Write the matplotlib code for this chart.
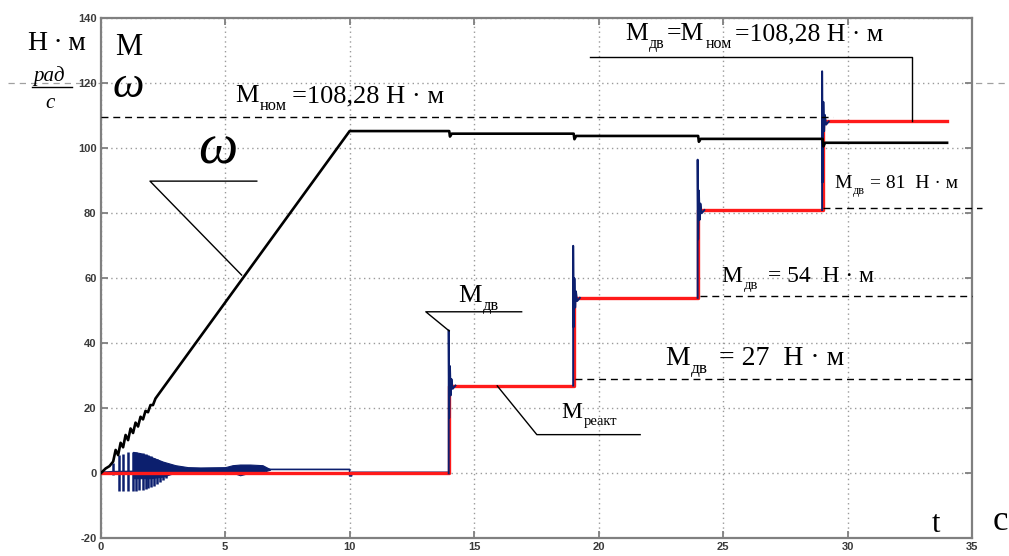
import matplotlib
matplotlib.use("Agg")
import matplotlib.pyplot as plt
from matplotlib.lines import Line2D

plt.rcParams['mathtext.fontset'] = 'custom'
plt.rcParams['mathtext.rm'] = 'Liberation Serif'
plt.rcParams['mathtext.it'] = 'Liberation Serif:italic'
plt.rcParams['font.family'] = ['Liberation Serif', 'DejaVu Serif']
plt.rcParams['axes.unicode_minus'] = False

# --- data -------------------------------------------------------------
x_ticks = [0, 5, 10, 15, 20, 25, 30, 35]
y_ticks = [-20, 0, 20, 40, 60, 80, 100, 120, 140]

# load steps (reactive torque), s and N*m
step_t = [14, 19, 24, 29]
step_level = [27, 54, 81, 108.28]
t_end = 34

# motor torque transients at each load step
spike_peak = [44, 70, 96.5, 123.7]
spike_low = [17, 45, 72, 89.5]

# angular speed, rad/s (start-up ramp with ripple, then load steps)
omega_t = [0, 0.2, 0.35, 0.5, 0.6, 0.7, 0.8, 0.9, 1.0, 1.1, 1.2, 1.3, 1.4,
           1.5, 1.6, 1.7, 1.8, 1.9, 2.0, 2.1, 2.2, 2.35, 10.0,
           14.0, 14.03, 14.1, 19.0, 19.03, 19.1, 24.0, 24.03, 24.1,
           29.0, 29.03, 29.1, 34.0]
omega_v = [0, 1.5, 2.2, 3.6, 7.2, 5.6, 9.4, 8.0, 11.8, 10.2, 13.8, 12.4,
           15.6, 14.4, 17.4, 16.6, 19.2, 18.8, 21.0, 21.0, 23.0, 24.6, 105.3,
           105.3, 103.6, 104.5, 104.5, 102.8, 103.8, 103.8, 102.0, 102.9,
           102.9, 100.6, 101.7, 101.7]

# start-up torque oscillations: individual swings and dense envelope
swing_t = [0.5, 0.75, 0.91, 1.11, 1.29, 1.42, 1.55, 1.68, 1.8, 1.92,
           2.04, 2.16, 2.28, 2.4, 2.52, 2.64]
swing_hi = [3.2, 5.6, 6.0, 6.5, 6.6, 6.6, 6.4, 6.2, 6.0, 5.6,
            5.2, 4.8, 4.4, 3.9, 3.4, 3.0]
swing_lo = [-0.5, -5.4, -5.4, -5.4, -5.4, -5.3, -5.2, -5.0, -4.8, -4.6,
            -4.3, -3.9, -3.4, -2.8, -2.2, -1.5]
env_t = [1.3, 1.6, 2.0, 2.5, 3.0, 3.5, 4.0, 5.0, 5.3, 5.6, 6.0, 6.5, 6.8]
env_hi = [6.6, 6.2, 5.1, 3.6, 2.5, 1.9, 1.8, 1.9, 2.5, 2.7, 2.7, 2.5, 1.3]
env_lo = [-1.5, -1.5, -1.5, -1.0, 0.2, 0.3, 0.3, 0.3, 0.2, -0.6, 0.2, 0.4, 1.1]
idle_t = [0, 0.5, 6.8, 10.0, 10.0, 10.08, 10.08, 14.0]
idle_v = [0.3, 0.5, 1.2, 1.2, -0.8, -0.8, 0.3, 0.3]

# --- figure -----------------------------------------------------------
fig = plt.figure(figsize=(10.09, 5.56), dpi=100)
ax = fig.add_axes([0.0998, 0.0318, 0.8635, 0.9353])
ax.set_xlim(0, 35)
ax.set_ylim(-20, 140)
ax.set_xticks(x_ticks)
ax.set_yticks(y_ticks)

spine_c = '#808080'
for s in ax.spines.values():
    s.set_color(spine_c)
    s.set_linewidth(1.6)
ax.tick_params(direction='in', length=5, width=1.3, color=spine_c,
               top=True, right=True, labelsize=8, labelcolor='#3a3a3a', pad=3)
for lab in ax.get_xticklabels() + ax.get_yticklabels():
    lab.set_family('Liberation Sans')
    lab.set_fontweight('bold')
ax.grid(True, color='#9a9a9a', linestyle=(0, (1, 2.5)), linewidth=1.0)
ax.set_axisbelow(True)

# figure-wide light dashed guide
fig.add_artist(Line2D([0.008, 1.0], [0.8507, 0.8507], transform=fig.transFigure,
                      color='#a0a0a0', lw=0.9, ls=(0, (5, 4)), zorder=0))

navy = '#0c1f6e'
red = '#ff1a1a'

# motor torque during start-up
ax.plot(idle_t, idle_v, color=navy, lw=1.2, zorder=2)
ax.vlines(swing_t, swing_lo, swing_hi, color=navy, lw=1.8, zorder=2)
ax.fill_between(env_t, env_lo, env_hi, color=navy, lw=0.8, zorder=2)

# reactive load torque
red_t = [0] + step_t + [t_end]
red_v = [0] + step_level + [step_level[-1]]
ax.step(red_t, red_v, where='post', color=red, lw=2.4, zorder=3)

# motor torque transients at load steps
prev = [0] + step_level[:-1]
for ts, p0, lvl, hi, lo in zip(step_t, prev, step_level, spike_peak, spike_low):
    tt = [ts - 0.02, ts - 0.02, ts, ts + 0.03, ts + 0.06, ts + 0.09, ts + 0.14, ts + 0.25]
    vv = [p0, hi, lo, lvl + 6, lvl - 3, lvl + 2, lvl - 1, lvl]
    ax.plot(tt, vv, color=navy, lw=1.4, zorder=4)

# angular speed
ax.plot(omega_t, omega_v, color='black', lw=1.9, zorder=5)

# --- annotations ------------------------------------------------------
renderer = fig.canvas.get_renderer()


def rich_label(x, y, parts, size):
    """Write a label from pieces; kind 's' is a lowered, smaller subscript.
    Each piece is (text, kind, gap_before_in_points)."""
    dx = 0.0
    for txt, kind, gap in parts:
        dx += gap * size / 20.0
        fs = size if kind == 'n' else size * 0.62
        dy = 0.0 if kind == 'n' else -size * 0.3
        t = ax.annotate(txt, (x, y), xytext=(dx, dy), textcoords='offset points',
                        fontsize=fs, va='baseline', ha='left', zorder=7,
                        annotation_clip=False)
        dx += t.get_window_extent(renderer).width * 72.0 / fig.dpi


kline = dict(color='black', lw=1.0, zorder=6)
dline = dict(color='black', lw=1.0, ls=(0, (5, 3.5)), zorder=6, clip_on=False)

# omega pointer
ax.text(3.91, 95.5, r'$\omega$', fontsize=40, zorder=7)
ax.plot([6.27, 1.98, 5.66], [89.9, 89.9, 61.0], **kline)

# nominal torque line
ax.plot([0, 29.42], [109.7, 109.7], **dline)
rich_label(5.40, 114.2, [('М', 'n', 0), ('ном', 's', 1), ('=108,28 Н · м', 'n', 4)], 19)

# top label with bracket to final step
rich_label(21.06, 133.3, [('М', 'n', 0), ('дв', 's', 1), ('=М', 'n', 2),
                          ('ном', 's', 1), ('=108,28 Н · м', 'n', 2)], 18.5)
ax.plot([19.66, 32.6, 32.6], [128.0, 128.0, step_level[3]], **kline)

# step labels
rich_label(29.49, 87.7, [('М', 'n', 0), ('дв', 's', 1), ('= 81  Н · м', 'n', 5)], 14)
ax.plot([29.0, 35.4], [81.5, 81.5], **dline)

rich_label(24.95, 58.95, [('М', 'n', 0), ('дв', 's', 1), ('= 54  Н · м', 'n', 8)], 17)
ax.plot([24.08, 35], [54.55, 54.55], **dline)

rich_label(22.67, 33.3, [('М', 'n', 0), ('дв', 's', 1), ('= 27  Н · м', 'n', 8)], 20)
ax.plot([19.05, 35], [29.0, 29.0], **dline)

# M_dv pointer at first step
rich_label(14.36, 52.8, [('М', 'n', 0), ('дв', 's', 1)], 19)
ax.plot([16.91, 13.06, 14.0], [49.7, 49.7, 43.8], **kline)

# reactive torque pointer
rich_label(18.52, 16.9, [('М', 'n', 0), ('реакт', 's', 1)], 17)
ax.plot([15.93, 17.52, 21.67], [26.9, 11.9, 11.9], **kline)

# axis names
ax.text(0.58, 128.7, 'М', fontsize=22)
ax.text(0.46, 115.9, r'$\omega$', fontsize=32)
ax.text(33.4, -18.2, 't', fontsize=22)
fig.text(0.984, 0.047, 'с', fontsize=25)
fig.text(0.0278, 0.910, 'Н\u2009·\u2009м', fontsize=20)
fig.text(0.0327, 0.855, 'рад', fontsize=15, fontstyle='italic')
fig.add_artist(Line2D([0.032, 0.071], [0.8435, 0.8435], transform=fig.transFigure,
                      color='black', lw=1.0))
fig.text(0.0495, 0.805, 'с', fontsize=15, fontstyle='italic', ha='center')

fig.savefig('out.png', dpi=100)
